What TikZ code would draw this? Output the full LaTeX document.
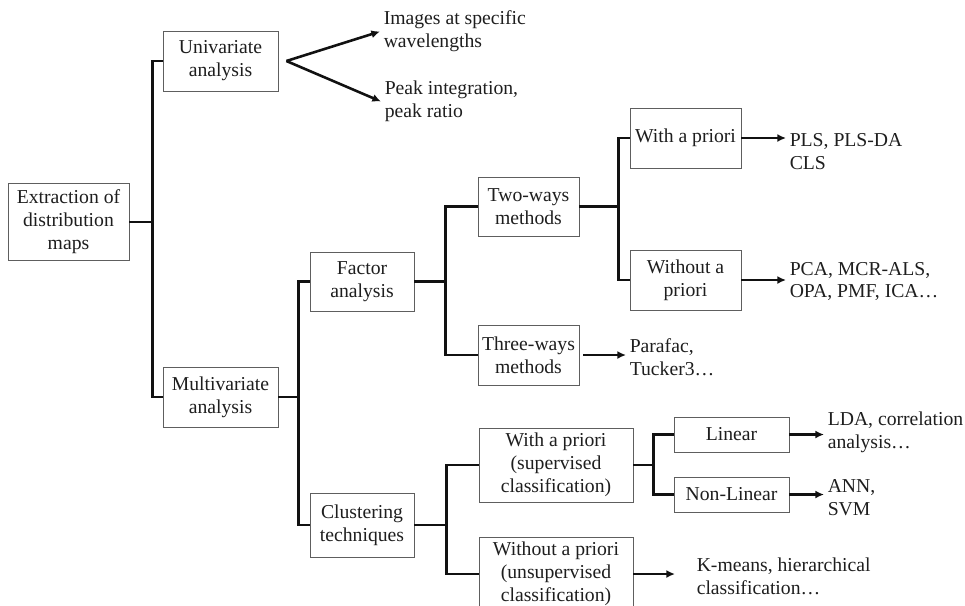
\documentclass[tikz,border=0pt]{standalone}
\usepackage{fontspec}
\setmainfont{Liberation Serif}
\usetikzlibrary{arrows.meta,calc,positioning}
\definecolor{MapLine}{HTML}{111111}
\definecolor{MapBorder}{HTML}{5E5E5E}
\definecolor{MapText}{HTML}{1E1E1E}

\begin{document}
\begin{tikzpicture}[
  x=0.03cm,y=-0.03cm,>=Latex,
  font=\fontsize{16.8}{19.6}\selectfont,text=MapText,
  link/.style={draw=MapLine,line width=2.2pt},
  flow/.style={link,-{Latex[length=2.6mm,width=2.4mm]}},
  box/.style={draw=MapBorder,fill=white,line width=0.7pt,align=center,
    inner sep=2pt},
  result/.style={anchor=west,align=left,inner xsep=3pt,inner ysep=1pt}
]
\useasboundingbox (0,0) rectangle (965,605);

% Tree read left to right: each bus is a vertical bar between a parent box
% and its children; leaves end in plain text lists of methods.
\node[box,minimum width=3.63cm,minimum height=2.31cm] (extr) at (68.5,222)
  {Extraction of\\distribution\\maps};

\node[box,minimum width=3.45cm,minimum height=1.8cm] (univ) at (220.5,61)
  {Univariate\\analysis};
\node[box,minimum width=3.45cm,minimum height=1.8cm] (multi) at (220.5,397)
  {Multivariate\\analysis};

\node[box,minimum width=3.12cm,minimum height=1.77cm] (factor) at (362,281.5)
  {Factor\\analysis};
\node[box,minimum width=3.12cm,minimum height=1.92cm] (clust) at (362,525)
  {Clustering\\techniques};

\node[box,minimum width=3.03cm,minimum height=1.77cm] (twoway) at (528.5,206.5)
  {Two-ways\\methods};
\node[box,minimum width=3.03cm,minimum height=1.8cm] (threeway) at (528.5,355)
  {Three-ways\\methods};

\node[box,minimum width=3.33cm,minimum height=1.8cm] (prior) at (685.5,138)
  {With a priori};
\node[box,minimum width=3.33cm,minimum height=1.8cm] (noprior) at (685.5,280)
  {Without a\\priori};

\node[box,minimum width=4.62cm,minimum height=2.22cm] (superv) at (556,465)
  {With a priori\\(supervised\\classification)};
\node[box,minimum width=4.62cm,minimum height=2.22cm] (unsuperv) at (556,574)
  {Without a priori\\(unsupervised\\classification)};

\node[box,minimum width=3.45cm,minimum height=1.05cm] (linear) at (731.5,434.5)
  {Linear};
\node[box,minimum width=3.45cm,minimum height=1.05cm] (nonlinear) at (731.5,494.5)
  {Non-Linear};

% leaf lists
\node[result] (images) at (380,31.5) {Images at specific\\wavelengths};
\node[result] (peaks) at (381,101.5) {Peak integration,\\peak ratio};
\node[result] (pls) at (786,151.5) {PLS, PLS-DA\\CLS};
\node[result] (pca) at (786,281.5) {PCA, MCR-ALS,\\OPA, PMF, ICA\dots};
\node[result] (parafac) at (626,357.5) {Parafac,\\Tucker3\dots};
\node[result] (lda) at (824,432.5) {LDA, correlation\\analysis\dots};
\node[result] (ann) at (824,498) {ANN,\\SVM};
\node[result] (kmeans) at (693,576) {K-means, hierarchical\\classification\dots};

% buses
\coordinate (busA) at ($(extr.east)+(23,0)$);
\coordinate (busB) at ($(multi.east)+(20,0)$);
\coordinate (busC) at ($(factor.east)+(31,0)$);
\coordinate (busD) at ($(twoway.east)+(39,0)$);
\coordinate (busE) at ($(clust.east)+(32,0)$);
\coordinate (busF) at ($(superv.east)+(20,0)$);
\coordinate (fork) at ($(univ.east)+(8,0)$);

\draw[link] (extr.east) -- (busA);
\draw[link] (univ.west) -| (busA) |- (multi.west);
\draw[link] (multi.east) -- (busB);
\draw[link] (factor.west) -| (busB) |- (clust.west);
\draw[link] (factor.east) -- (busC);
\draw[link] (twoway.west) -| (busC) |- (threeway.west);
\draw[link] (twoway.east) -- (busD);
\draw[link] (prior.west) -| (busD) |- (noprior.west);
\draw[link] (clust.east) -- (busE);
\draw[link] (superv.west) -| (busE) |- (unsuperv.west);
\draw[link] (superv.east) -- (busF);
\draw[link] (linear.west) -| (busF) |- (nonlinear.west);

% arrows to the method lists
\draw[flow] (fork) -- (images.west);
\draw[flow] (fork) -- (peaks.west);
\draw[flow] (prior.east) -- (pls.west |- prior.east);
\draw[flow] (noprior.east) -- (pca.west |- noprior.east);
\draw[flow,shorten <=0.12cm] (threeway.east) -- (parafac.west |- threeway.east);
\draw[flow] (linear.east) -- (lda.west |- linear.east);
\draw[flow] (nonlinear.east) -- (ann.west |- nonlinear.east);
\draw[flow,shorten >=0.54cm] (unsuperv.east) -- (kmeans.west |- unsuperv.east);

\end{tikzpicture}
\end{document}
